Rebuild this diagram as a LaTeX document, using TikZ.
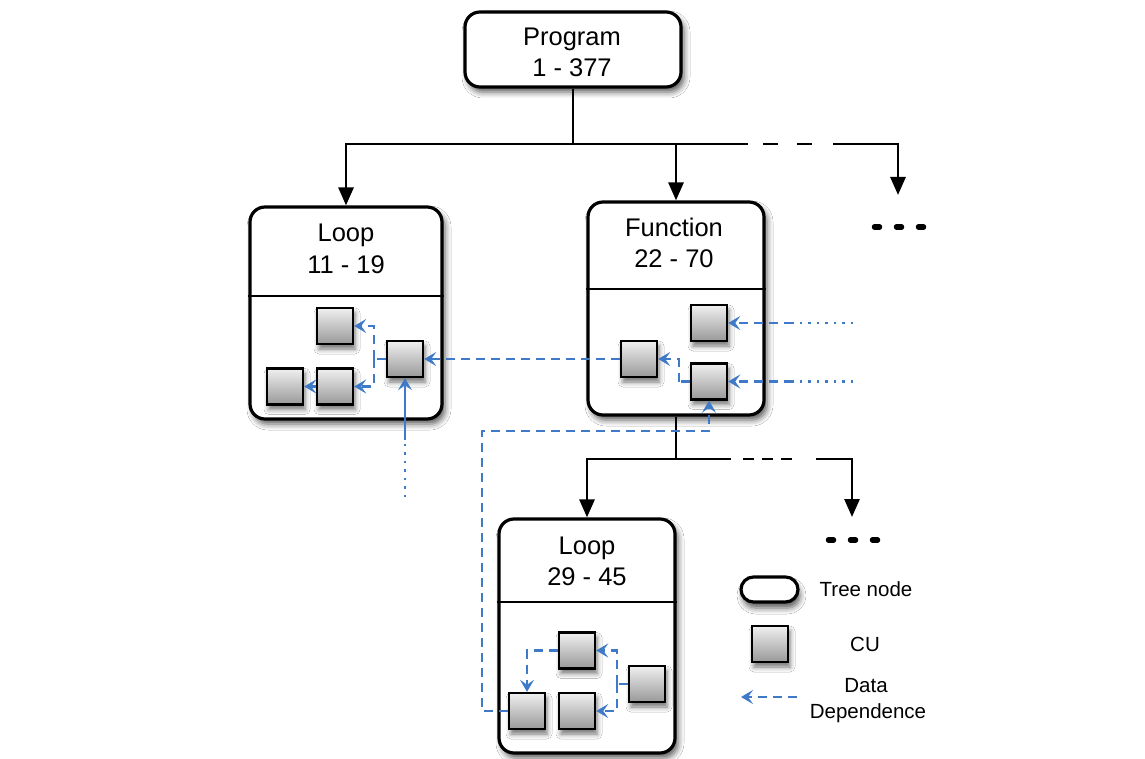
\documentclass[tikz,border=0pt]{standalone}
\usepackage{fontspec}
\setmainfont{Liberation Sans}
\usetikzlibrary{arrows.meta,shadows.blur}
\definecolor{depblue}{RGB}{62,122,200}
\begin{document}
\begin{tikzpicture}[x=1pt,y=-1pt,
  treebox/.style={draw, line width=3.2pt, rounded corners=15pt, fill=white, inner sep=0pt,
    blur shadow={shadow xshift=3pt, shadow yshift=-5pt, shadow blur radius=6pt, shadow opacity=65}},
  legpill/.style={draw, line width=3.2pt, rounded corners=12.5pt, fill=white, inner sep=0pt,
    minimum width=57pt, minimum height=25pt,
    blur shadow={shadow xshift=2pt, shadow yshift=-6pt, shadow blur radius=6pt, shadow opacity=65}},
  divider/.style={line width=1.8pt},
  cu/.style={draw, line width=2.4pt, minimum size=36pt, inner sep=0pt, top color=black!6, bottom color=black!40,
    blur shadow={shadow xshift=2pt, shadow yshift=-5pt, shadow blur radius=5pt, shadow opacity=55}},
  boxtext/.style={font=\fontsize{25.5}{30}\selectfont, anchor=base, inner sep=0pt},
  legtext/.style={font=\fontsize{20.5}{25}\selectfont, anchor=base, inner sep=0pt},
  treeline/.style={line width=2.8pt, black},
  treearrow/.style={treeline, -{Triangle[length=18pt,width=15pt]}},
  treedash/.style={treeline, dash pattern=on 15pt off 19pt},
  treedashb/.style={treeline, dash pattern=on 11pt off 8pt},
  ellip/.style={line width=5.5pt, line cap=round, dash pattern=on 5pt off 17pt},
  dep/.style={depblue, line width=2.3pt, dash pattern=on 9pt off 6pt},
  deparrow/.style={dep, -{Stealth[length=12pt,width=14pt,inset=5pt]}},
  depdot/.style={depblue, line width=2.5pt, dash pattern=on 2.5pt off 6pt},
  depsolid/.style={depblue, line width=2.3pt, -{Stealth[length=12pt,width=14pt,inset=5pt]}}
]
\fill[white] (0,0) rectangle (1145,759);
\useasboundingbox (0,0) rectangle (1145,759);

% tree boxes
\node[treebox, minimum width=216pt, minimum height=75pt] (prog) at (573,49.5) {};
\node[treebox, minimum width=192pt, minimum height=212pt] (loopA) at (346,313) {};
\node[treebox, minimum width=176pt, minimum height=213pt] (func) at (676,308.5) {};
\node[treebox, minimum width=176pt, minimum height=234pt] (loopB) at (587,636) {};

\coordinate (dA) at (0,296);
\coordinate (dF) at (0,289);
\coordinate (dB) at (0,602);
\draw[divider] (loopA.west |- dA) -- (loopA.east |- dA);
\draw[divider] (func.west |- dF) -- (func.east |- dF);
\draw[divider] (loopB.west |- dB) -- (loopB.east |- dB);

\node[boxtext] (progT1) at (572,46) {Program};
\node[boxtext] (progT2) at (572,77) {1 - 377};
\node[boxtext] (loopAT1) at (346,242) {Loop};
\node[boxtext] (loopAT2) at (346,273) {11 - 19};
\node[boxtext] (funcT1) at (674,237) {Function};
\node[boxtext] (funcT2) at (674,268) {22 - 70};
\node[boxtext] (loopBT1) at (587,554) {Loop};
\node[boxtext] (loopBT2) at (587,585) {29 - 45};

% tree connectors
\coordinate (j1) at (573,144);
\coordinate (j1r) at (748,144);
\coordinate (j1d1) at (763,144);
\coordinate (j1d2) at (813,144);
\coordinate (j1c) at (833,144);
\coordinate (more1) at (898,195);
\draw[treeline] (prog.south) -- (j1);
\draw[treearrow] (j1) -| (loopA.north);
\draw[treeline] (j1) -- (j1r);
\draw[treearrow] (func.north |- j1) -- (func.north);
\draw[treedash] (j1d1) -- (j1d2);
\draw[treearrow] (j1c) -| (more1);
\coordinate (e1a) at (874.5,227);
\coordinate (e1b) at (924.5,227);
\draw[ellip] (e1a) -- (e1b);

\coordinate (j2) at (func.south |- 0,459);
\coordinate (j2r) at (731,459);
\coordinate (j2d1) at (743,459);
\coordinate (j2d2) at (793,459);
\coordinate (j2c) at (816,459);
\coordinate (more2) at (852,517);
\draw[treeline] (func.south) -- (j2);
\draw[treearrow] (j2) -| (loopB.north);
\draw[treeline] (j2) -- (j2r);
\draw[treedashb] (j2d1) -- (j2d2);
\draw[treearrow] (j2c) -| (more2);
\coordinate (e2a) at (828.5,540);
\coordinate (e2b) at (878.5,540);
\draw[ellip] (e2a) -- (e2b);

% CUs
\node[cu] (A1) at (335,326) {};
\node[cu] (A2) at (405,359) {};
\node[cu] (A3) at (335,386.5) {};
\node[cu] (A4) at (285,386.5) {};
\node[cu] (F1) at (709,323) {};
\node[cu] (F2) at (639,359) {};
\node[cu] (F3) at (709,381.5) {};
\node[cu] (B1) at (577,650.5) {};
\node[cu] (B2) at (647,684) {};
\node[cu] (B3) at (527,711) {};
\node[cu] (B4) at (577,711) {};

% data dependences in loop A
\draw[dep] (A2.west) -- ++(-12,0) coordinate (ja);
\draw[deparrow] (ja) |- (A1.east);
\draw[deparrow] (ja) |- (A3.east);
\draw[deparrow] (A3.west) -- (A4.east);
\draw[deparrow] (F2.west) -- (A2.east);
\coordinate (ua) at (405,440);
\coordinate (ub) at (405,497);
\draw[depdot] (ub) -- (ua);
\draw[depsolid] (ua) -- (A2.south);

% function
\draw[dep] (F3.west) -- ++(-11,0) coordinate (jf);
\draw[deparrow] (jf) |- (F2.east);
\coordinate (r1a) at (853,323);
\coordinate (r1b) at (793,323);
\coordinate (r2a) at (853,381.5);
\coordinate (r2b) at (793,381.5);
\draw[depdot] (r1a) -- (r1b);
\draw[deparrow] (r1b) -- (F1.east);
\draw[depdot] (r2a) -- (r2b);
\draw[deparrow] (r2b) -- (F3.east);
\coordinate (lp) at (482,431);
\draw[deparrow] (B3.west) -| (lp) -| (F3.south);

% loop B
\draw[dep] (B2.west) -- ++(-11,0) coordinate (jb);
\draw[deparrow] (jb) |- (B1.east);
\draw[deparrow] (jb) |- (B4.east);
\draw[deparrow] (B1.west) -| (B3.north);

% legend
\node[legpill] (legT) at (769.5,589.5) {};
\node[cu] (legC) at (770,644) {};
\coordinate (legD1) at (797,697);
\coordinate (legD2) at (741,697);
\draw[deparrow] (legD1) -- (legD2);
\node[legtext] (legT1) at (866,596) {Tree node};
\node[legtext] (legT2) at (865,651) {CU};
\node[legtext] (legT3) at (866,692) {Data};
\node[legtext] (legT4) at (868,718) {Dependence};
\end{tikzpicture}
\end{document}
